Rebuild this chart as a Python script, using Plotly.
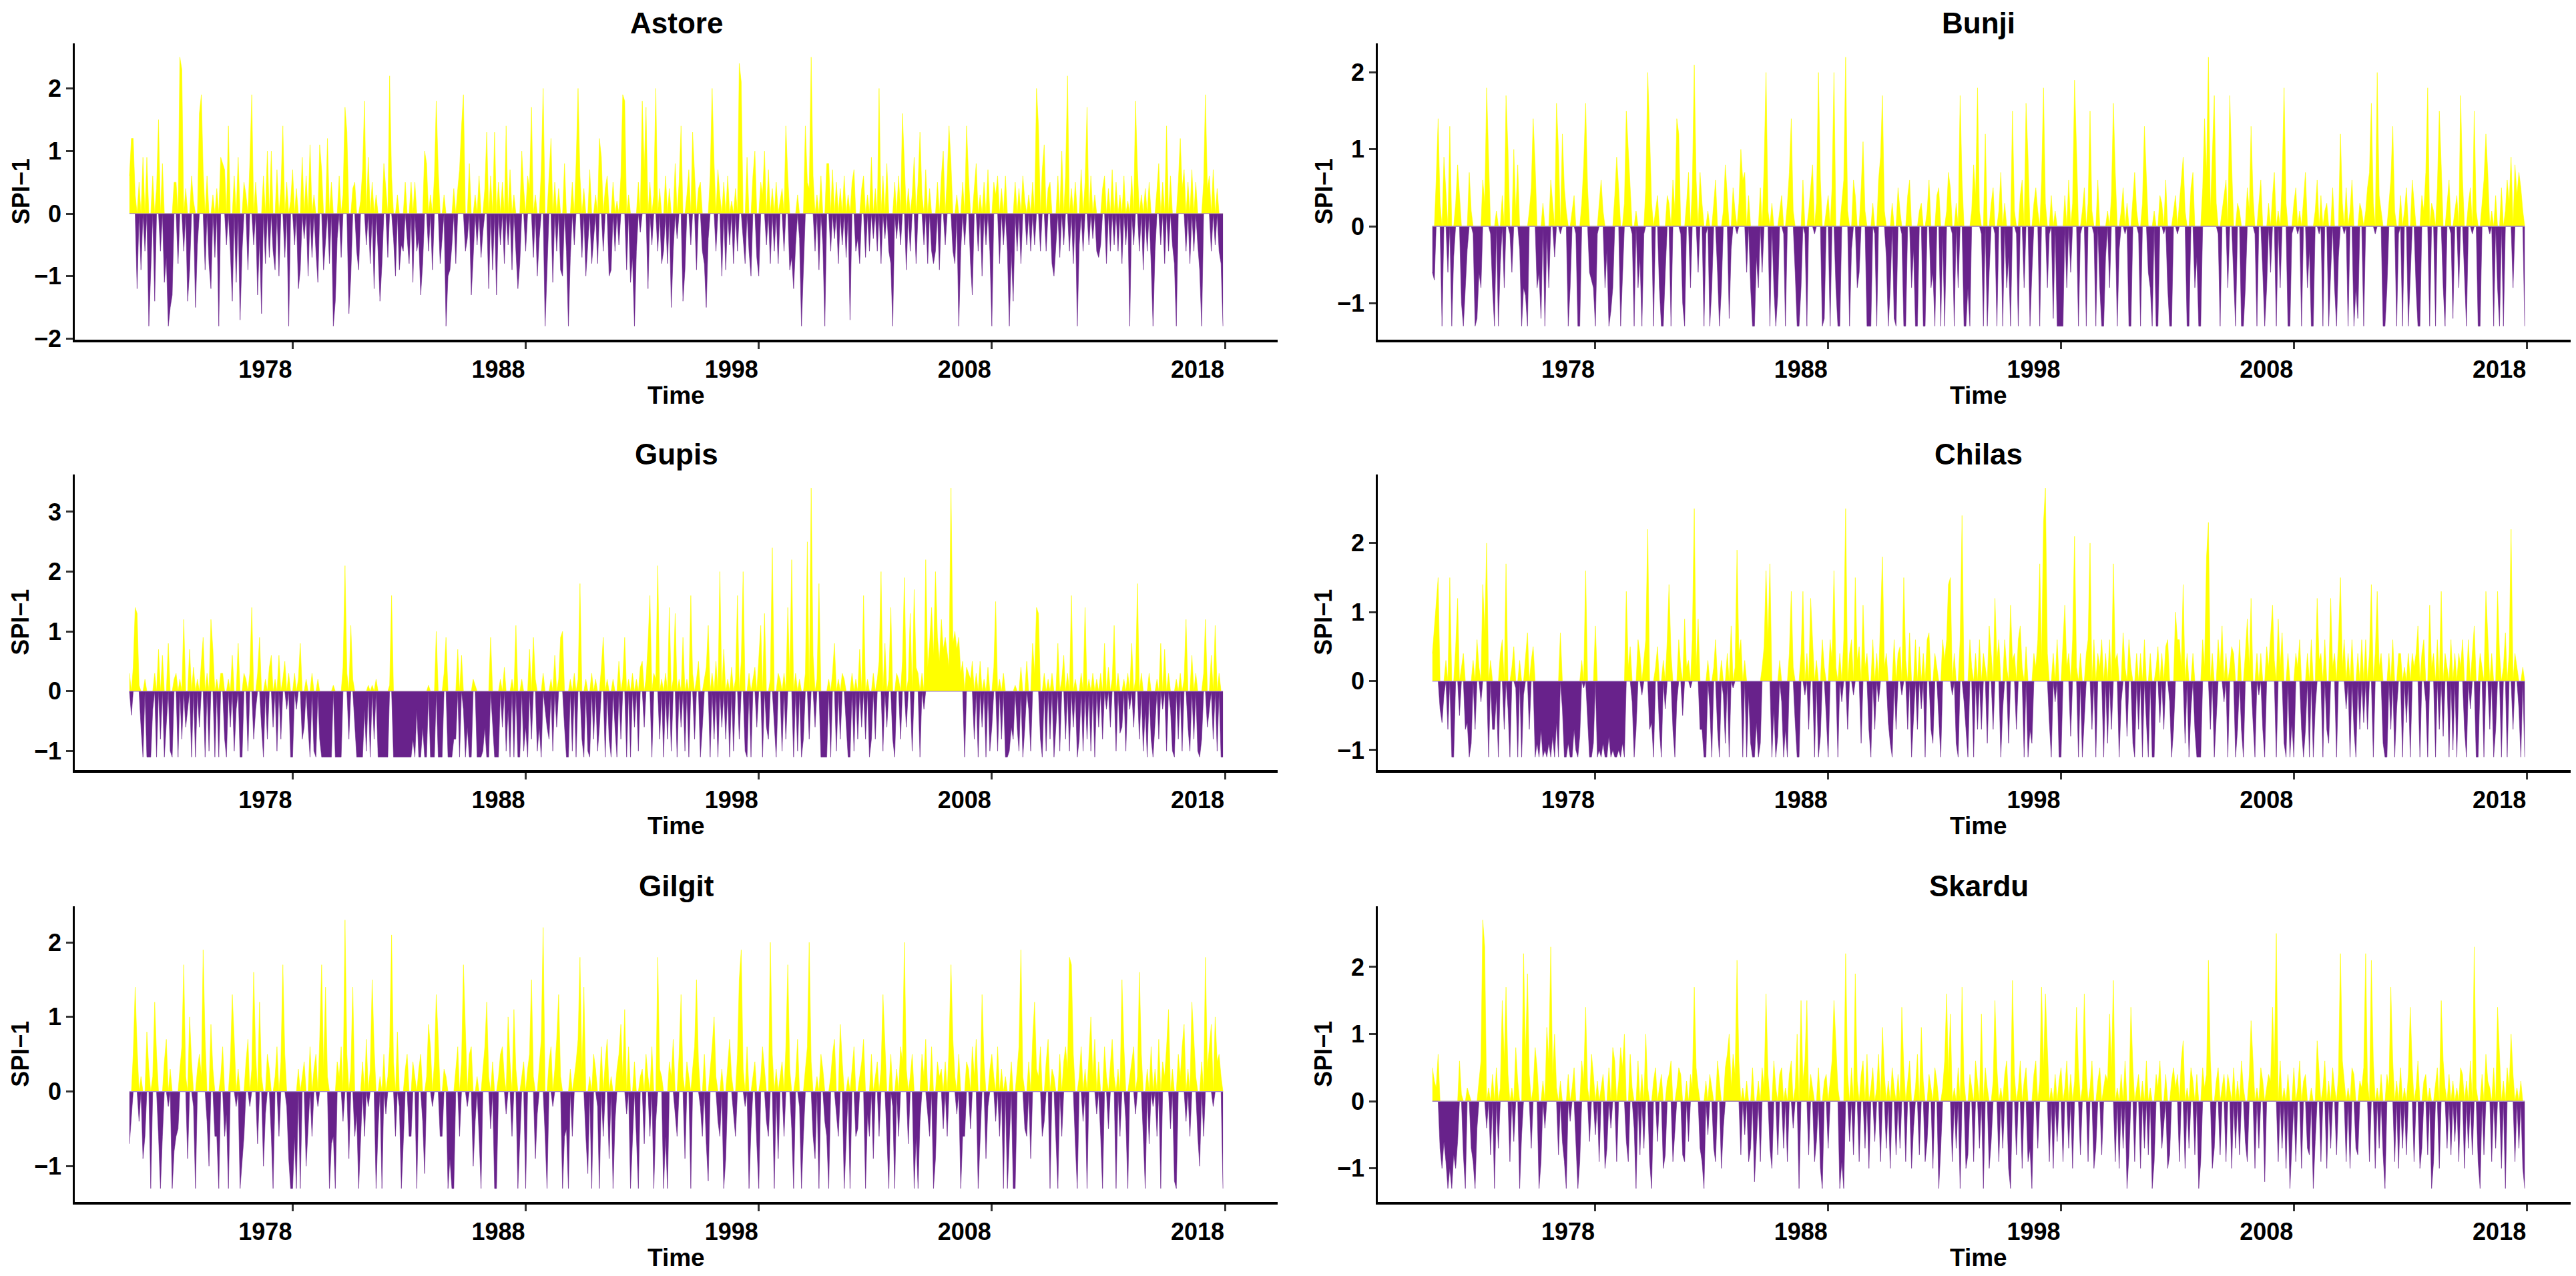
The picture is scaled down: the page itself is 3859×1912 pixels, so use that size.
import numpy as np
import pandas as pd
from plotly import graph_objects as go

# monthly SPI-1, Jan 1971 .. Dec 2017, values stored in tenths (one row = one year)
astore = [
    6, 12, 12, 3, -12, 5, -9, 9, -6, 9, -18, -10,
    6, -14, 4, 15, -6, 8, -11, -7, -18, -15, -13, 5,
    5, -8, 25, 23, -6, 4, -14, -9, 6, 2, -15, -5,
    16, 19, 7, -9, 6, -8, -12, 3, -7, 4, -18, 9,
    8, 7, -5, 14, -6, -14, 6, -11, 9, -17, -6, 5,
    3, -9, 8, 19, -5, 5, -13, -4, -16, 6, -8, 10,
    -7, 10, -6, -9, 7, -10, 4, 14, -7, 5, -18, 2,
    7, -5, 4, -12, -9, 9, -4, 6, -10, 11, -7, 3,
    -6, -11, 11, 7, -9, -4, 12, -8, 5, -18, -14, -4,
    6, -7, 3, 17, 13, -16, -10, 4, 5, -6, -9, 2,
    7, 18, -5, 9, -8, 5, -12, 3, -6, -14, -8, 8,
    4, -7, 22, 6, -4, -10, 3, -9, -5, -6, 5, -4,
    -8, 5, -11, 5, -6, -4, -13, -8, 10, 8, -6, 3,
    -9, 6, 18, 7, -8, -4, 3, -18, -10, -9, -5, 4,
    -8, 4, 7, 14, 19, -6, -4, 8, -13, -7, 3, -5,
    6, -7, -3, 4, 13, -12, 6, -9, 13, -13, 5, -5,
    5, -8, 14, -5, 7, -9, 3, -6, -12, -8, 10, 4,
    -6, 6, 4, 17, -7, 3, -10, -4, 7, 20, -18, -8,
    6, 12, -11, 5, -6, 4, -9, -10, 8, -6, -18, -7,
    5, -5, 8, 20, 6, -7, 4, -10, -5, 7, -8, -4,
    3, -8, 12, 9, -6, 4, 6, -10, -9, 5, -6, 2,
    -5, 6, 19, 18, -9, 3, -11, -7, -18, -6, 5, -3,
    18, 7, 17, -12, 5, -5, 3, 20, -6, 4, -8, -6,
    6, -8, 4, -15, -6, 8, -4, 5, 14, -14, -9, 3,
    7, -5, 13, 6, -9, 4, 5, -6, -8, -15, -4, 6,
    20, 8, -6, 7, 3, -10, 5, -9, 6, -5, 2, -8,
    4, -6, 24, 21, -4, -8, 9, -6, -10, 6, 10, -7,
    -10, 5, 3, 10, -5, 7, -8, 4, -6, 5, -8, 2,
    4, -6, 14, 6, -9, -7, -12, -5, 3, -4, -18, -9,
    14, 5, 4, 25, 6, -6, 3, -9, 6, -5, -18, 8,
    8, -6, 7, -4, 5, -8, 4, -5, 6, -7, 3, -17,
    5, 7, -6, -4, -8, 4, 6, -7, 3, -6, 9, -4,
    4, -6, 20, -8, 6, -4, 8, -6, -8, -18, 5, -4,
    6, -5, 16, 7, -9, 4, -6, 3, 9, -8, 5, 13,
    3, -5, 7, -8, 4, -6, -8, -6, 5, -9, 6, 10,
    -5, 6, 14, 8, -6, -8, 3, -18, -6, 5, -5, 14,
    6, -8, -13, 4, 8, -6, 3, -10, 5, -5, 7, -6,
    -18, 5, 3, 6, -8, 4, -5, 6, -6, -18, -6, -14,
    5, -6, 4, -8, 6, 2, -5, 3, -6, 5, -5, 20,
    14, -6, 7, 11, -6, 4, 5, -8, -10, -5, 6, -7,
    10, -5, 6, 22, -6, 4, -8, 5, -18, -5, 7, -6,
    5, 17, -5, 6, -4, 3, -6, -7, -5, 4, 6, -8,
    4, -6, 7, -5, 5, -6, 3, -8, 6, -5, 2, -18,
    6, -5, 18, 7, -6, 3, -9, 4, -6, 5, -8, -18,
    -6, 4, 8, -5, 5, -8, 14, -6, 6, -5, -8, -18,
    5, 12, 4, 7, -6, 5, -8, 7, -6, 5, -5, -9,
    -18, 5, 19, 4, 6, -6, 7, -5, 4, -6, -8, -18,
]

bunji = [
    -6, -7, 6, 14, 3, -13, 9, 5, -6, 13, -13, -4,
    3, 8, 4, -10, -13, -8, -3, 7, 2, -1, -13, -12,
    -6, -8, 6, 3, 18, 9, -1, -8, -13, 2, -13, -5,
    4, -8, 17, 10, -1, -6, 10, 2, 8, -3, -13, -8,
    -9, -13, 2, 5, 14, 8, -8, -6, -12, 3, -13, -1,
    -8, 6, 3, -4, 16, 10, -1, 12, 5, 2, -13, -8,
    2, 4, -1, -13, -13, 3, 8, 16, 5, -6, -7, -8,
    -13, -1, 3, 6, 2, -8, -3, -13, -11, -8, 4, 9,
    5, -13, -6, 3, 15, 10, 6, -1, -13, 2, -8, -4,
    -13, -1, 5, 20, 12, 3, -13, 2, 4, -8, -13, -13,
    -6, 4, 3, -13, 6, 2, 14, 12, -1, -10, -13, 3,
    7, -8, 5, 21, 6, -6, 7, 3, -13, -1, 2, -13,
    -8, 3, 6, -6, -13, -8, 2, 8, 4, -12, -3, 5,
    2, -1, 3, 10, 6, 7, -6, 4, -8, -13, -13, -4,
    -8, 5, -6, 8, 20, 2, -13, 3, -8, -13, -9, 2,
    4, -1, -13, 3, 7, 14, 2, -6, -13, -13, -8, 6,
    -1, -13, 2, 5, 8, -1, 3, 20, 6, -13, -12, 2,
    4, -13, 5, 20, -8, -13, -13, 3, 6, 22, 2, -13,
    -3, 6, 4, -8, -6, 5, 11, 2, -13, -13, -13, 3,
    -1, -13, 6, 9, 17, 2, -4, -13, -8, 3, -12, -13,
    5, 2, -1, -13, -13, 4, 6, -8, -3, -13, -13, 2,
    3, -13, -13, 2, 6, -8, -6, -13, 4, 5, -13, -1,
    -13, 2, 7, 5, -1, -13, 3, -8, 17, 6, -13, -13,
    -8, -13, 2, 8, 4, 18, 2, -1, -13, 12, -13, -6,
    3, 5, -1, -13, 2, 7, -13, 3, -8, -4, -13, 15,
    2, -1, -13, 4, 6, -8, 16, 9, -13, -6, 3, 5,
    2, -13, 6, 18, 3, -8, -1, 4, -12, 2, -13, -13,
    -13, -13, 4, -8, 6, -6, 3, 19, 10, -13, -1, 2,
    5, -13, 3, 15, 2, -1, -13, 6, -8, -13, -13, -4,
    2, -8, 4, 16, 7, -13, -3, 2, 5, -1, 3, -13,
    -13, 4, 7, 2, -1, -13, 3, 13, 6, -6, -8, -13,
    2, -13, -13, 4, 3, -1, 6, -8, -13, -13, 2, 4,
    -1, 3, 6, 9, 2, -13, -13, 5, 7, -8, -4, -13,
    -13, 5, 14, 7, 22, 2, 9, 17, 3, -1, -13, 2,
    4, 6, -8, 17, 8, -6, -13, 3, 2, -13, -13, -8,
    5, 2, 13, 4, -1, -13, 3, 6, -6, -13, -8, 3,
    -6, 4, 7, -13, 2, -8, 6, 18, 3, -13, -13, -1,
    3, 5, -1, 2, -13, 4, 7, -8, -3, -13, -13, 2,
    6, -1, 4, -13, 2, 3, -13, -6, 5, -8, -13, -4,
    12, 3, -1, 5, -13, 2, 6, -13, -8, -12, 3, 2,
    -13, 2, 5, 7, 16, 3, -1, 20, 4, 2, -13, -13,
    -8, 3, 6, 13, 2, -13, -1, 4, -13, 2, 5, -13,
    -6, 6, 3, -8, -13, -13, 4, 2, 7, 18, -13, 3,
    2, -13, 5, 15, 8, -8, -13, 3, 6, -1, -12, 2,
    4, -8, 17, 6, -6, -13, 3, 5, -1, 15, 2, -13,
    -13, 3, 6, 12, 7, -1, 2, -13, 4, -8, -13, 5,
    -13, 2, 6, 3, 9, -8, 8, 4, 7, 5, 2, -13,
]

gupis = [
    3, -4, 4, 14, 13, 1, -6, -11, 2, -11, -11, -11,
    -3, 3, -11, 7, -8, 6, -11, -6, 8, -10, -11, 2,
    3, -11, 2, -8, 12, -6, -3, 7, -11, 4, -11, 2,
    -6, 5, 9, -11, 3, -10, 12, 7, -11, 2, -11, 3,
    3, -8, -11, 2, -6, 6, -10, -3, 8, -11, -11, 3,
    2, -10, 3, 14, -8, -3, 3, 9, -6, -11, 2, -8,
    4, 6, -6, 2, -10, 6, -8, 2, 5, -3, 3, -11,
    -11, 3, -3, 2, 8, -8, -6, 2, -6, -11, 3, -10,
    -11, 2, -8, -11, -11, -11, -11, -11, -11, 1, -11, -11,
    -11, -11, 4, 21, 3, -8, 11, 2, -6, -11, -11, -11,
    -11, -3, -10, 1, -11, 1, -8, 2, -11, -11, -11, -11,
    -11, -11, 1, 16, -11, -11, -11, -11, -11, -11, -11, -11,
    -11, -11, -8, -11, -3, -11, -11, -6, -11, -11, 1, -11,
    -11, -11, 10, -11, -11, -11, 3, 9, -11, -11, -11, -8,
    -8, 7, -11, 6, -3, -11, -6, -11, -11, 2, 1, -11,
    -11, -11, -10, -6, -11, -11, 9, -6, -11, -11, -11, 2,
    -6, 4, -10, -3, -11, 2, -11, 11, -11, -11, 2, -10,
    -6, -11, 7, -8, 9, 2, -10, -6, -11, 3, -3, -6,
    -8, 2, -10, 6, -6, 2, 9, 10, -6, -11, -11, 2,
    -10, 3, -11, 2, 18, -8, -11, 2, -10, -11, 3, -8,
    2, -10, -6, 4, 9, -11, 2, -8, -11, 2, -6, -11,
    5, -8, 2, 9, -11, 2, -11, 3, -6, 2, -10, 4,
    5, -6, 2, 8, 16, -11, 3, 2, 21, -8, 2, -11,
    3, -8, 14, -10, 2, 13, -11, 2, -6, 9, -10, 2,
    -11, 16, 3, -8, 2, 5, -11, -6, 2, 4, 11, -11,
    3, -8, 5, -11, 20, -6, 7, -8, 2, -11, 4, -10,
    2, 16, -8, 5, 20, -10, -11, 3, -11, 2, 4, -6,
    5, 11, -11, 13, -6, -8, 2, 24, -6, -11, 3, 2,
    -10, 3, -8, 14, 2, 22, -11, 3, -10, 2, -11, -8,
    3, 25, -8, 34, 6, -6, 2, 18, -11, -11, -11, -11,
    2, -11, 3, 8, -10, 2, -8, 3, 2, -6, -11, -11,
    3, -10, 2, -8, 7, -6, 16, -8, 2, -11, -8, 3,
    -8, 2, 5, 20, -10, 8, -6, 2, 14, -8, -11, 3,
    2, -8, 5, 19, -6, 2, 13, -10, 17, 4, 3, -11,
    3, -3, 22, 4, 8, 14, 6, 20, 9, 5, 12, 7,
    9, 6, 4, 34, 8, 10, 7, 9, 3, 5, -11, 4,
    3, 2, 5, -8, 3, -11, 5, -6, 2, -11, 4, -10,
    -6, 4, 15, -10, 2, -8, 3, -11, -11, -10, -6, -8,
    1, -6, -10, 4, -11, -6, 5, -3, -10, 8, 3, 14,
    13, -8, -11, 3, -10, 2, -8, 3, -11, -6, 8, -10,
    2, 6, -8, 3, -10, 16, -6, 2, -11, -8, 3, -10,
    14, -8, 2, -10, 3, -11, 2, -6, 3, -8, 8, -3,
    4, -6, 2, 11, -10, 3, -7, -6, 2, -10, 3, -3,
    8, -6, 2, 18, -8, 3, -10, -3, -11, 3, -8, -11,
    -6, 2, -8, 8, -3, 7, -10, 3, -3, -10, -11, 2,
    -8, 3, -10, 2, 12, -6, -10, 6, -8, 3, -10, -11,
    -8, 3, 12, -6, -3, 6, -8, 11, -10, 3, -11, -11,
]

chilas = [
    4, 8, 12, 15, -4, -6, -2, 3, -7, 15, -11, -11,
    5, 12, -5, 2, 4, -7, -6, -11, -9, 3, -7, 6,
    2, -3, 14, 7, 20, -11, 3, -7, -7, -2, -11, 4,
    6, -7, 17, -4, -11, 2, 5, -1, -11, 3, -11, -2,
    4, 7, -7, 3, 5, -11, -9, -11, -7, -11, -10, -11,
    -9, -11, -8, -11, -6, -11, 7, -4, -11, -11, -9, -11,
    -11, -7, -10, -11, -8, 3, -1, 16, -6, -11, -11, -9,
    8, -11, -10, -11, -9, -11, -11, -8, -11, -10, -11, -11,
    -10, -11, -9, -11, 13, 2, 5, -3, -11, -7, 6, 4,
    -2, 3, 6, 22, -7, -6, -11, 2, 5, -7, -11, 3,
    -4, 6, 14, 4, -7, -11, -3, 6, 2, -5, 9, 2,
    3, -1, 6, 25, 2, 9, -7, -7, -11, -11, 3, -4,
    -11, 2, 6, -7, -11, 3, -2, -9, 4, -11, 8, -1,
    2, 19, 4, 6, -11, 3, -11, -2, -9, -11, -11, -6,
    -11, -9, 2, 5, 16, 6, 17, -11, -4, -11, -8, 3,
    -3, -11, -7, -11, 4, 13, 2, -6, -11, -11, 4, 13,
    -2, 4, -7, 12, 6, -11, 3, -11, -8, 6, 2, -5,
    -11, 6, 3, 16, 2, -11, 4, -3, 6, 25, -7, 4,
    6, -2, 15, 3, 5, -9, 11, 2, 4, -7, -11, 6,
    -7, 4, -3, 9, 18, 2, 4, -6, -9, -11, 6, -7,
    4, 5, -2, 15, 3, -7, 7, -11, -5, 6, -7, 5,
    -4, 4, -11, 6, 7, -7, -9, 4, 2, -6, -11, 6,
    3, 6, 14, 15, -2, 4, -9, -11, 6, 24, -3, -7,
    -11, 6, 2, -11, 4, -7, 6, -7, 4, 2, -9, 8,
    4, -7, 12, 3, 6, -11, -4, 6, 2, -9, 11, 3,
    4, -7, 6, 8, 2, -11, 5, -11, -7, -9, 4, 2,
    6, 17, 3, 23, 28, 4, -6, -11, 4, -3, 6, -11,
    -11, 6, 11, 2, 4, -8, 6, 21, 2, -11, 4, -11,
    -6, 4, 6, 20, -7, 6, -11, 4, 2, 6, -11, 4,
    -9, 6, -7, 17, 3, 4, -11, -3, 7, 2, -8, 6,
    2, -9, -11, 4, -7, 4, -11, 6, -6, -11, 4, -11,
    -11, 2, 5, -6, 4, -7, 5, 6, -3, -11, -7, 10,
    6, 6, 2, 14, -9, 4, -11, -4, 4, -7, -11, -11,
    -11, 6, 2, 18, 23, -7, 4, -11, -6, 6, 2, 8,
    -3, 4, -11, 2, 5, 4, -11, -7, 6, -7, -11, 4,
    9, 2, 12, -6, -11, 4, -2, 4, -7, -11, 5, 2,
    6, 11, 3, -11, 9, 2, 7, -9, -11, 4, -11, -6,
    -11, 4, 2, 6, -7, -11, -7, 4, -11, 6, -11, -4,
    12, 3, 4, -11, 6, -7, -9, 12, 2, 4, -11, 6,
    15, 2, 6, -4, 4, -11, 6, -7, -11, 4, -7, 6,
    -6, 6, -7, 4, 14, -11, 4, 13, 2, 4, -9, -11,
    -11, 4, -7, 6, -11, -4, 4, 4, -11, 2, -6, 4,
    -11, 4, 2, 4, 8, -11, 4, 6, -3, -11, 11, 2,
    4, -11, 6, -7, 13, -8, 4, 2, -11, 6, -10, 4,
    -11, 4, 2, 6, -7, -11, 6, -4, 4, 8, -11, -11,
    4, 2, -11, 13, 6, -7, 4, -11, -7, 13, 4, -11,
    2, 7, -11, 4, 22, -7, 4, 2, -4, -11, 2, -11,
]

gilgit = [
    -7, -3, 5, 14, 6, -4, 2, -9, -6, 8, 3, -13,
    2, 12, 5, -6, -13, -6, 4, 7, -2, 3, -13, -8,
    -6, -5, 3, 6, 17, 2, -9, 10, 4, -2, -13, 3,
    5, 2, 19, 7, -4, -10, 9, 3, -6, -6, -13, 2,
    6, -6, -3, -13, 4, 13, 7, -2, 3, -13, -9, -6,
    4, 7, -2, 3, 16, 5, -7, 12, 2, -10, -3, 5,
    3, -6, -13, 2, 6, -6, 4, 17, 5, -2, -9, -13,
    -13, -6, -13, 3, -13, 2, 4, -10, -5, 6, -6, 3,
    5, -2, 7, 17, 3, 14, 2, -13, -7, -6, -13, 4,
    2, 6, -4, 23, 5, -9, 3, 14, -6, -3, -13, -6,
    4, -6, 7, -2, 3, 15, 6, -13, -5, 2, -13, 5,
    -3, 2, 6, 21, 4, -6, 8, -2, -13, -7, 3, 5,
    -6, -6, 4, 2, -13, 3, 5, -4, -11, 2, 9, 6,
    -2, 4, 13, 7, -6, -6, 3, 2, -13, -9, -13, -13,
    3, 6, -6, 4, 17, 8, -2, 5, 6, -10, -4, 2,
    -6, -13, 3, 6, 12, 2, -5, 4, -13, -13, 2, 5,
    6, 2, -3, 10, 4, -6, 11, 3, -13, -7, 2, 4,
    -13, 3, 5, 15, 2, -9, -3, 4, 7, 22, -6, -13,
    4, 6, -2, 3, 7, 13, 2, -13, -6, -5, -13, 3,
    -6, 2, 4, 7, 18, 3, 14, -6, -11, 2, -13, 5,
    3, -2, -13, 6, -6, 4, 7, -9, 2, -13, -4, 3,
    5, 9, 2, 11, -3, 6, -13, -6, 4, -6, -13, 2,
    3, -7, 5, 2, -6, 6, -13, -4, 18, 3, 2, -13,
    -6, -13, 4, 2, 7, -3, -6, 5, 13, 2, -9, 4,
    2, -13, 3, 6, 15, 4, -2, -6, 5, -7, -12, 3,
    6, 10, 2, -4, -6, 3, -13, -9, 4, 7, 2, -3,
    -6, 5, 15, 19, 3, -2, 6, -13, -5, 2, 4, -7,
    -13, 2, 6, 3, -4, -6, 20, 5, -13, 3, -9, 2,
    4, -6, 6, 17, 3, -5, -13, 2, 7, -2, -13, -6,
    3, 6, 20, 4, -6, -9, 2, -13, 5, 3, -4, -6,
    -13, 2, 5, 7, -3, -6, 9, 4, -13, -6, 2, -13,
    3, 6, -6, -5, 2, 4, 7, -13, -3, -6, 5, -9,
    2, 4, -6, 3, 13, 6, -6, -13, 5, -2, -13, 3,
    -6, 6, 4, 20, 3, -7, 2, 5, -13, -6, -13, -4,
    5, 2, 7, -3, -6, 6, -13, -9, 4, 2, 3, -5,
    4, -6, 6, 17, 7, 2, -3, 5, -13, -6, -6, 4,
    3, -5, 6, 2, 7, -13, -6, 13, 4, -9, -2, 3,
    5, 2, -4, 6, -6, 3, -13, 2, -13, -6, 4, -13,
    -13, 3, 6, 19, 2, -5, -6, 4, -9, 7, 12, 3,
    2, 6, -6, -4, 4, 7, -13, 3, 2, -6, -13, 5,
    -6, 4, 6, 3, 18, 17, 5, -7, -13, 2, 6, -4,
    3, -13, 5, 10, 2, 7, -3, 4, -6, -13, 6, 2,
    -5, 4, 7, 2, -13, 3, -6, 15, 6, -4, -13, 2,
    4, 6, -3, 2, 16, 5, -6, -13, 3, -7, 6, -2,
    3, -6, 7, -13, 4, 2, 6, 11, -5, 3, -12, -13,
    5, 2, 6, 9, -4, 3, -6, 12, 7, 2, -6, -10,
    4, -6, 18, 3, 6, 9, -2, 10, 4, 5, 2, -13,
]

skardu = [
    5, 3, 2, 7, -7, -10, -6, -9, -13, -10, -13, -8,
    -10, -6, 6, 1, -8, -13, 2, 1, -7, -9, -13, -4,
    3, 6, 27, 23, -4, 2, -8, 4, -13, 5, -7, 2,
    15, 6, 17, 4, -9, 2, -6, 8, 3, -13, -5, 22,
    7, 19, 4, -7, 2, 8, 5, -13, -9, 3, -4, 11,
    6, 23, 4, 10, 2, -8, 3, -6, -9, -13, 4, -3,
    2, 5, -7, -13, -9, 6, 3, 14, 2, -6, 7, 4,
    -5, 3, -9, 2, 4, -10, -7, 5, -4, 8, 6, -9,
    3, 8, 5, 10, -6, -9, 7, 2, -4, -13, 6, -8,
    4, -7, 10, 2, -9, -13, 3, 5, -6, 2, 4, -10,
    -8, 3, 4, 6, -9, -4, 2, 5, 4, -8, -9, 3,
    -6, 4, 2, 17, 5, 2, -7, -9, -13, 3, -5, 4,
    2, -7, -9, 6, 3, -10, -4, 5, 7, 10, 2, 7,
    4, 21, 6, -8, 2, -5, 3, -9, -7, 5, -12, -6,
    3, -9, 5, 2, 16, 4, -7, -10, 6, 2, -8, 4,
    5, -7, 2, -9, 4, 6, -4, 2, 10, -13, 15, 3,
    6, 15, -8, 4, 2, -9, -6, 5, -10, -13, 3, 4,
    -7, 3, 6, 15, 8, 2, -13, -9, -13, 22, 4, -6,
    5, -8, 19, 3, -9, 4, 6, -7, 7, -10, 2, 5,
    -6, 2, 7, -9, 11, 4, -7, 3, -10, 5, 2, -8,
    4, -7, 14, 5, -9, 3, 6, -10, -4, 2, 7, -8,
    11, 3, -9, -6, 4, 2, -10, 5, 3, -13, -7, 2,
    6, 16, 4, 13, -9, 2, -7, 5, -13, 17, 3, -10,
    -8, 4, 2, -9, 6, 3, -7, 13, -13, 5, 2, -10,
    -6, 3, 15, 5, -9, 2, -7, 4, 6, -10, -13, 18,
    4, -8, 2, 6, -10, 3, 5, -9, -7, -13, 4, 6,
    -7, 3, 17, 5, 16, 7, -9, 2, -10, 4, -6, 3,
    5, -9, 2, 6, -7, 4, -10, 3, 14, 5, -8, 2,
    16, 4, -9, 2, 6, -10, -7, 3, 5, -8, 2, 4,
    3, 13, 5, 18, -9, 2, -10, 4, -7, 6, -13, -8,
    14, 5, -9, 2, 4, -10, 3, -7, 6, -8, 2, -13,
    -9, 4, 2, 6, -7, -3, 4, -10, -8, 3, 5, 2,
    4, -9, 6, 9, -10, 2, -7, 5, 3, -8, 4, -13,
    -9, 5, 2, 4, 21, 6, -10, -7, 3, 5, -8, 2,
    4, -9, 4, 2, -10, 5, -7, 3, -8, 6, 2, -6,
    -9, 4, 12, 6, -10, 2, -7, 5, 3, -12, 2, 4,
    3, 14, 5, 25, -9, 6, -7, 2, -10, 4, -13, -6,
    5, -9, 2, 6, -10, 3, 4, -7, -8, 2, -13, -6,
    9, 4, -9, 2, 6, -10, 3, -7, 5, 2, -8, 4,
    22, 6, 3, -9, 2, -10, 5, 4, -7, -8, 3, 2,
    5, 22, 3, -9, 21, 6, -10, 2, -7, 4, -8, -13,
    4, 2, 17, 6, -9, 3, -10, 5, -7, 2, -8, 4,
    14, 5, -9, 2, 6, -10, -7, 3, 4, -8, 2, -13,
    -9, 3, 5, -10, 15, 6, 2, -7, 4, -8, 3, -6,
    2, -9, 5, 4, -10, 3, -7, 6, -8, 23, 2, -9,
    -13, 4, -8, 7, 3, 2, -9, 5, -7, 14, 6, -10,
    3, -13, 5, 2, 10, 4, -9, 2, -7, 3, -10, -13,
]

STATIONS = ["Astore", "Bunji", "Gupis", "Chilas", "Gilgit", "Skardu"]
SERIES = [astore, bunji, gupis, chilas, gilgit, skardu]
TICK_YEARS = [1978, 1988, 1998, 2008, 2018]
START = "1971-01-01"

YELLOW = "#FFFF00"
PURPLE = "#68228B"
FONT = "Liberation Sans, Arial, sans-serif"
W, H = 3859, 1912

# panel boxes in pixels
COLS = [(104, 1906), (2056, 3856)]             # left, right
ROWS = [(58, 506), (710, 1158), (1364, 1811)]  # top, bottom

fig = go.Figure()
layout = {}
annotations = []
shapes = []

for k, (name, vals) in enumerate(zip(STATIONS, SERIES)):
    r, c = divmod(k, 2)
    left, right = COLS[c]
    top, bottom = ROWS[r]
    n = k + 1
    xa = "x" if n == 1 else f"x{n}"
    ya = "y" if n == 1 else f"y{n}"

    spi = np.array(vals, dtype=float) / 10.0
    dates = pd.date_range(START, periods=len(spi), freq="MS")
    pos = np.clip(spi, 0, None)
    neg = np.clip(spi, None, 0)

    fig.add_trace(go.Scatter(
        x=dates, y=pos, mode="lines", fill="tozeroy",
        fillcolor=YELLOW, line=dict(color=YELLOW, width=0.6),
        xaxis=xa, yaxis=ya, showlegend=False, hoverinfo="skip"))
    fig.add_trace(go.Scatter(
        x=dates, y=neg, mode="lines", fill="tozeroy",
        fillcolor=PURPLE, line=dict(color=PURPLE, width=0.6),
        xaxis=xa, yaxis=ya, showlegend=False, hoverinfo="skip"))

    shapes.append(dict(type="line", xref=xa, yref=ya,
                       x0=dates[0], x1=dates[-1], y0=0, y1=0,
                       line=dict(color="#A58CC8", width=1.2)))

    lo, hi = spi.min(), spi.max()
    pad = 0.05 * (hi - lo)
    span = dates[-1] - dates[0]

    tickfont = dict(family=FONT, size=36, color="black", weight="bold")
    layout["xaxis" if n == 1 else f"xaxis{n}"] = dict(
        domain=[left / W, right / W], anchor=ya, type="date",
        range=[dates[0] - 0.05 * span, dates[-1] + 0.05 * span],
        tickvals=[pd.Timestamp(f"{y}-01-01") for y in TICK_YEARS],
        ticktext=[str(y) for y in TICK_YEARS],
        ticks="outside", ticklen=10, tickwidth=2.5, tickcolor="#333333",
        showline=True, linewidth=3.5, linecolor="black",
        showgrid=False, zeroline=False, tickfont=tickfont,
        ticklabelshift=-41)
    layout["yaxis" if n == 1 else f"yaxis{n}"] = dict(
        domain=[1 - bottom / H, 1 - top / H], anchor=xa,
        range=[lo - pad, hi + pad], tick0=0, dtick=1,
        ticks="outside", ticklen=10, tickwidth=2.5, tickcolor="#333333",
        showline=True, linewidth=2.5, linecolor="black",
        showgrid=False, zeroline=False, tickfont=tickfont)

    cx = (left + right) / 2 / W
    common = dict(xref="paper", yref="paper", showarrow=False,
                  xanchor="center", yanchor="middle")
    annotations.append(dict(
        text=f"<b>{name}</b>", x=cx, y=1 - (top - 31) / H,
        font=dict(family=FONT, size=44, color="black"), **common))
    annotations.append(dict(
        text="<b>Time</b>", x=cx, y=1 - (bottom + 84) / H,
        font=dict(family=FONT, size=37, color="black"), **common))
    annotations.append(dict(
        text="<b>SPI\u22121</b>", x=(left - 81) / W,
        y=1 - (top + bottom) / 2 / H, textangle=-90,
        font=dict(family=FONT, size=36, color="black"), **common))

fig.update_layout(
    width=W, height=H,
    margin=dict(l=0, r=0, t=0, b=0),
    paper_bgcolor="white", plot_bgcolor="white",
    annotations=annotations, shapes=shapes,
    **layout)

fig.write_html("out.html")
